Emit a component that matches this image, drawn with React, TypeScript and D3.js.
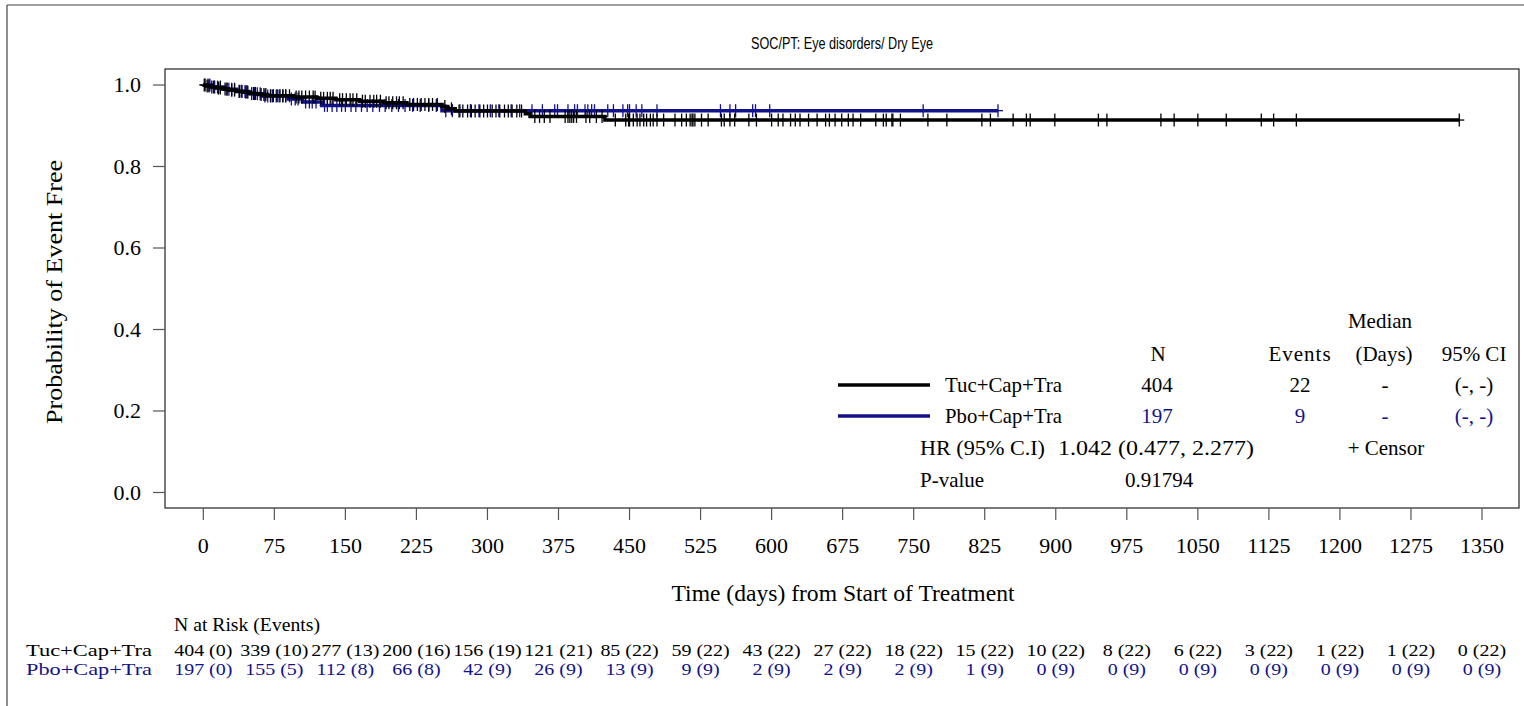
import React from "react";
import * as d3 from "d3";

const W = 1524;
const H = 706;

const title = "SOC/PT: Eye disorders/ Dry Eye";
const xTicks = [0, 75, 150, 225, 300, 375, 450, 525, 600, 675, 750, 825, 900, 975, 1050, 1125, 1200, 1275, 1350];
const yTicks = [0.0, 0.2, 0.4, 0.6, 0.8, 1.0];
const groups = ["Tuc+Cap+Tra", "Pbo+Cap+Tra"];

// Tuc+Cap+Tra (black)
const tucEventTimes = [3, 8, 14, 20, 27, 35, 42, 50, 58, 68, 95, 120, 140, 165, 190, 215, 252, 258, 266, 340, 345, 424];
const tucSurv = [0.9975, 0.995, 0.9925, 0.99, 0.9874, 0.9848, 0.9821, 0.9794, 0.9766, 0.9737, 0.9706, 0.9674, 0.9641, 0.9603, 0.9564, 0.9523, 0.947, 0.9416, 0.9362, 0.9296, 0.9229, 0.914];
const tucEnd = 1326;
const tucCensor = [
  1, 4, 6, 9, 11, 16, 18, 23, 25, 30, 33, 38, 40, 45, 47, 53, 55, 61, 64, 66, 71, 74, 78, 81, 84, 87, 91, 98, 101, 104,
  108, 112, 116, 118, 124, 127, 131, 134, 137, 144, 147, 151, 155, 158, 162, 168, 171, 176, 180, 183, 187, 193, 196,
  200, 204, 207, 211, 218, 222, 226, 230, 234, 238, 242, 247, 255, 262, 270, 274, 279, 283, 287, 292, 296, 300, 305,
  309, 313, 318, 322, 326, 331, 336, 350, 355, 360, 366, 382, 385, 387, 389, 391, 394, 404, 408, 415, 421, 435, 446,
  449, 450, 454, 458, 461, 465, 468, 472, 475, 479, 486, 498, 505, 510, 514, 516, 517, 519, 526, 533, 547, 550, 556,
  561, 576, 584, 600, 607, 612, 620, 625, 630, 639, 648, 657, 661, 667, 674, 681, 686, 694, 710, 718, 721, 727, 728,
  736, 765, 785, 822, 831, 855, 869, 873, 899, 945, 954, 1011, 1025, 1050, 1080, 1117, 1130, 1154, 1326,
];

// Pbo+Cap+Tra (blue)
const pboEventTimes = [10, 22, 35, 48, 62, 90, 105, 125, 252];
const pboSurv = [0.9949, 0.9897, 0.9843, 0.9788, 0.9731, 0.9658, 0.9582, 0.95, 0.937];
const pboEnd = 839;
const pboCensor = [
  2, 5, 7, 12, 15, 18, 25, 27, 30, 33, 38, 41, 44, 46, 51, 54, 57, 60, 65, 68, 71, 73, 77, 80, 84, 87, 93, 97, 100,
  108, 112, 115, 119, 128, 131, 136, 141, 146, 150, 156, 161, 167, 173, 179, 186, 192, 199, 206, 213, 221, 229, 238,
  246, 256, 263, 271, 282, 291, 303, 312, 325, 334, 347, 358, 371, 374, 385, 392, 395, 403, 406, 410, 413, 427, 433,
  443, 448, 450, 457, 463, 479, 546, 556, 562, 580, 583, 598, 760, 839,
];

const riskTuc = ["404 (0)", "339 (10)", "277 (13)", "200 (16)", "156 (19)", "121 (21)", "85 (22)", "59 (22)", "43 (22)", "27 (22)", "18 (22)", "15 (22)", "10 (22)", "8 (22)", "6 (22)", "3 (22)", "1 (22)", "1 (22)", "0 (22)"];
const riskPbo = ["197 (0)", "155 (5)", "112 (8)", "66 (8)", "42 (9)", "26 (9)", "13 (9)", "9 (9)", "2 (9)", "2 (9)", "2 (9)", "1 (9)", "0 (9)", "0 (9)", "0 (9)", "0 (9)", "0 (9)", "0 (9)", "0 (9)"];

const legendN = ["404", "197"];
const legendEvents = ["22", "9"];
const legendMedian = ["-", "-"];
const legendCI = ["(-, -)", "(-, -)"];
const hrText = "1.042 (0.477, 2.277)";
const pValue = "0.91794";

const BLACK = "#000000";
const BLUE = "#12128c";
const SERIF = "'Liberation Serif', 'Times New Roman', serif";
const SANS = "'Liberation Sans', Arial, sans-serif";

function survAt(times: number[], surv: number[], t: number) {
  let s = 1;
  for (let i = 0; i < times.length; i++) if (times[i] <= t) s = surv[i];
  return s;
}

export default function App() {
  const x = d3.scaleLinear().domain([0, 1350]).range([203.3, 1482]);
  const y = d3.scaleLinear().domain([0, 1]).range([492.5, 85]);
  const line = d3
    .line<[number, number]>()
    .x((d) => x(d[0]))
    .y((d) => y(d[1]))
    .curve(d3.curveStepAfter);

  const mkPts = (times: number[], surv: number[], end: number): [number, number][] => {
    const pts: [number, number][] = [[0, 1]];
    times.forEach((t, i) => pts.push([t, surv[i]]));
    pts.push([end, surv[surv.length - 1]]);
    return pts;
  };

  const series = [
    { name: groups[1], color: BLUE, times: pboEventTimes, surv: pboSurv, end: pboEnd, censor: pboCensor },
    { name: groups[0], color: BLACK, times: tucEventTimes, surv: tucSurv, end: tucEnd, censor: tucCensor },
  ];

  const plotL = 165, plotR = 1519, plotT = 69, plotB = 508;

  const colN = 1157, colEv = 1300, colMed = 1384, colCI = 1474;
  const legRows = [385, 416];
  const riskRows = [656, 675];
  const vScale = 0.85;

  return (
    <svg width={W} height={H} style={{ position: "absolute", left: 0, top: 0, display: "block", background: "#fff" }}>
      {/* outer frame */}
      <line x1={7} y1={5} x2={W} y2={5} stroke="#444" strokeWidth={1.2} />
      <line x1={7} y1={5} x2={7} y2={H} stroke="#444" strokeWidth={1.2} />

      <text x={(plotL + plotR) / 2} y={48.5} textAnchor="middle" fontFamily={SANS} fontSize={16} textLength={182} lengthAdjust="spacingAndGlyphs" fill="#000">
        {title}
      </text>

      {/* plot box */}
      <rect x={plotL} y={plotT} width={plotR - plotL} height={plotB - plotT} fill="none" stroke="#222" strokeWidth={1.2} />

      {/* y axis */}
      {yTicks.map((t) => (
        <g key={"y" + t}>
          <line x1={153} x2={plotL} y1={y(t)} y2={y(t)} stroke="#555" strokeWidth={1.2} />
          <text x={141} y={y(t)} dy="0.33em" textAnchor="end" fontFamily={SERIF} fontSize={22} fill="#000">
            {t.toFixed(1)}
          </text>
        </g>
      ))}
      <text
        transform={`translate(62, 292) rotate(-90)`}
        textAnchor="middle"
        fontFamily={SERIF}
        fontSize={24}
        textLength={264}
        lengthAdjust="spacingAndGlyphs"
        fill="#000"
      >
        Probability of Event Free
      </text>

      {/* x axis */}
      {xTicks.map((t) => (
        <g key={"x" + t}>
          <line x1={x(t)} x2={x(t)} y1={plotB} y2={520} stroke="#555" strokeWidth={1.2} />
          <text x={x(t)} y={553} textAnchor="middle" fontFamily={SERIF} fontSize={22} fill="#000">
            {t}
          </text>
        </g>
      ))}
      <text x={843} y={601} textAnchor="middle" fontFamily={SERIF} fontSize={23} textLength={343} lengthAdjust="spacingAndGlyphs" fill="#000">
        Time (days) from Start of Treatment
      </text>

      {/* curves */}
      {series.map((s) => (
        <g key={s.name}>
          <path d={line(mkPts(s.times, s.surv, s.end)) || ""} fill="none" stroke={s.color} strokeWidth={3.5} />
          {s.censor.map((c, i) => {
            const cx = x(c);
            const cy = y(survAt(s.times, s.surv, c));
            return (
              <g key={i}>
                <line x1={cx} x2={cx} y1={cy - 6.5} y2={cy + 6.5} stroke={s.color} strokeWidth={1.3} />
                <line x1={cx - 5} x2={cx + 5} y1={cy} y2={cy} stroke={s.color} strokeWidth={1.3} />
              </g>
            );
          })}
        </g>
      ))}

      {/* legend */}
      <g fontFamily={SERIF} fontSize={21} fill="#000">
        <text x={colMed - 4} y={328} textAnchor="middle">Median</text>
        <text x={colN + 1} y={361} textAnchor="middle">N</text>
        <text x={colEv} y={361} textAnchor="middle" letterSpacing={1}>Events</text>
        <text x={colMed} y={361} textAnchor="middle">(Days)</text>
        <text x={colCI} y={361} textAnchor="middle">95% CI</text>
        {groups.map((g, i) => {
          const c = i === 0 ? BLACK : BLUE;
          const ry = legRows[i];
          return (
            <g key={g}>
              <line x1={838} x2={930} y1={ry} y2={ry} stroke={c} strokeWidth={3.5} />
              <text x={945} y={ry + 7} textLength={117} lengthAdjust="spacingAndGlyphs" fill="#000">{g}</text>
              <text x={colN} y={ry + 7} textAnchor="middle" fill={c}>{legendN[i]}</text>
              <text x={colEv} y={ry + 7} textAnchor="middle" fill={c}>{legendEvents[i]}</text>
              <text x={colMed + 1} y={ry + 7} textAnchor="middle" fill={c}>{legendMedian[i]}</text>
              <text x={colCI} y={ry + 7} textAnchor="middle" fill={c}>{legendCI[i]}</text>
            </g>
          );
        })}
        <text x={920} y={455} textLength={125} lengthAdjust="spacingAndGlyphs">HR (95% C.I)</text>
        <text x={1058} y={455} textLength={196} lengthAdjust="spacingAndGlyphs">{hrText}</text>
        <text x={1386} y={455} textAnchor="middle">+ Censor</text>
        <text x={920} y={487}>P-value</text>
        <text x={colN + 2} y={487} textAnchor="middle">{pValue}</text>
      </g>

      {/* risk table */}
      <g fontFamily={SERIF} fontSize={19}>
        <text x={174} y={631} textLength={146} lengthAdjust="spacingAndGlyphs" fill="#000">N at Risk (Events)</text>
        {groups.map((g, gi) => {
          const vals = gi === 0 ? riskTuc : riskPbo;
          const c = gi === 0 ? BLACK : BLUE;
          return (
            <g key={"risk" + g} transform={`translate(0, ${riskRows[gi]}) scale(1, ${vScale})`} fill={c}>
              <text x={26} y={0} textLength={126} lengthAdjust="spacingAndGlyphs">{g}</text>
              {xTicks.map((t, i) => (
                <text key={"r" + t} x={x(t)} y={0} textAnchor="middle" fontSize={20}>{vals[i]}</text>
              ))}
            </g>
          );
        })}
      </g>
    </svg>
  );
}
